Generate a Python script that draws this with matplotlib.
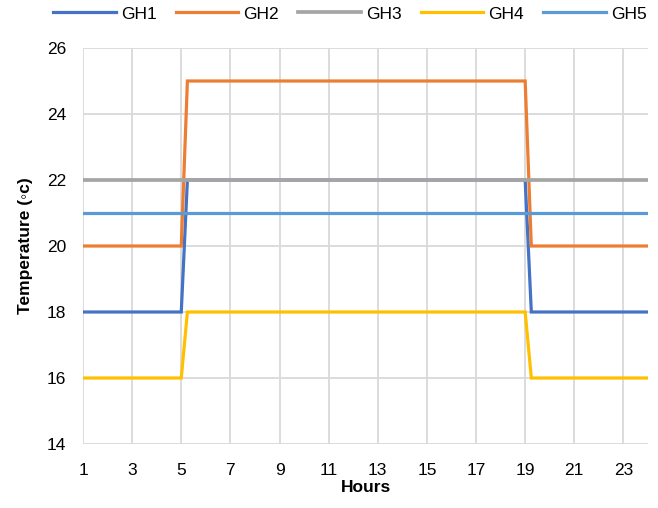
import matplotlib.pyplot as plt
import numpy as np

# hours, with the quarter-hour switch points after 5 and 19
hours = [1, 2, 3, 4, 5, 5.25, 6, 7, 8, 9, 10, 11, 12, 13, 14, 15, 16, 17, 18, 19, 19.25, 20, 21, 22, 23, 24]
gh1 = [18] * 5 + [22] * 15 + [18] * 6
gh2 = [20] * 5 + [25] * 15 + [20] * 6
gh3 = [22] * 26
gh4 = [16] * 5 + [18] * 15 + [16] * 6
gh5 = [21] * 26

names = ["GH1", "GH2", "GH3", "GH4", "GH5"]
series = [gh1, gh2, gh3, gh4, gh5]
colors = ["#4472C4", "#ED7D31", "#A5A5A5", "#FFC000", "#5B9BD5"]

plt.rcParams['font.family'] = ['Liberation Sans', 'DejaVu Sans']

fig = plt.figure(figsize=(6.58, 5.08), dpi=100)
ax = fig.add_axes([83 / 658, 1 - 444 / 508, (648 - 83) / 658, (444 - 48) / 508])

for name, vals, c in zip(names, series, colors):
    lw = 2.7 if name == "GH3" else 2.3
    ax.plot(hours, vals, color=c, lw=lw, label=name, solid_joinstyle='miter')

ax.set_xlim(1, 24)
ax.set_ylim(14, 26)
ax.set_xticks(np.arange(1, 24, 2))
ax.set_yticks(np.arange(14, 27, 2))
ax.grid(True, color="#d9d9d9", lw=1.3)
ax.set_axisbelow(True)
for s in ax.spines.values():
    s.set_visible(False)
ax.tick_params(length=0, labelsize=12.5, colors="black")
ax.tick_params(axis='x', pad=14)
ax.tick_params(axis='y', pad=12)

ax.set_xlabel("Hours", fontsize=12.5, fontweight='bold', labelpad=1)
ax.set_ylabel("Temperature (◦c)", fontsize=12.5, fontweight='bold', labelpad=10)

fig.legend(loc='center', bbox_to_anchor=(350 / 658, 1 - 14 / 508), ncol=5, frameon=False,
           fontsize=12.5, handlelength=3.6, columnspacing=1.1, handletextpad=0.3)

fig.savefig("out.png", dpi=100)
